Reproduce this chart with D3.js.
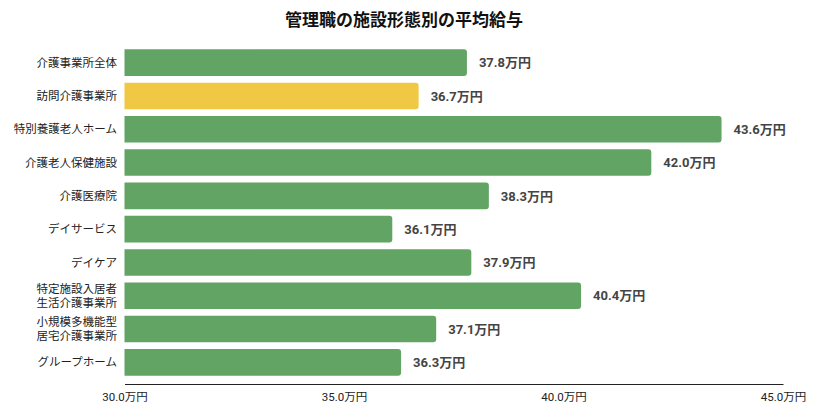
<!DOCTYPE html>
<html>
<head>
<meta charset="utf-8">
<script src="https://cdn.jsdelivr.net/npm/d3@7"></script>
<style>
  body { margin: 0; background: #fff; }
  text { font-family: "Noto Sans CJK JP", "Noto Sans", sans-serif; }
</style>
</head>
<body>
<div id="chart"></div>
<script>
    var categories = [
      ["介護事業所全体"],
      ["訪問介護事業所"],
      ["特別養護老人ホーム"],
      ["介護老人保健施設"],
      ["介護医療院"],
      ["デイサービス"],
      ["デイケア"],
      ["特定施設入居者", "生活介護事業所"],
      ["小規模多機能型", "居宅介護事業所"],
      ["グループホーム"]
    ];
    var values = [37.8, 36.7, 43.6, 42.0, 38.3, 36.1, 37.9, 40.4, 37.1, 36.3];
    var highlight = [false, true, false, false, false, false, false, false, false, false];
    var ticks = [30, 35, 40, 45];

    var svg = d3.select("#chart")
                .append("svg")
                .attr("width", 813)
                .attr("height", 410);

    var xScale = d3.scaleLinear()
                   .domain([30, 45])
                   .range([124.5, 783]);

    var yScale = d3.scaleBand()
                   .domain(d3.range(values.length))
                   .range([46, 379])
                   .paddingInner(0.2)
                   .paddingOuter(0.1);

    svg.append("text")
       .attr("x", 404)
       .attr("y", 26)
       .attr("text-anchor", "middle")
       .style("font-size", "17px")
       .style("font-weight", "bold")
       .attr("fill", "#111")
       .text("管理職の施設形態別の平均給与");

    // bars, square at the left, rounded at the right
    function barPath(i) {
      var x0 = xScale(30), x1 = xScale(values[i]);
      var y0 = yScale(i), h = yScale.bandwidth(), r = 3;
      return "M" + x0 + "," + y0 +
             "H" + (x1 - r) +
             "Q" + x1 + "," + y0 + " " + x1 + "," + (y0 + r) +
             "V" + (y0 + h - r) +
             "Q" + x1 + "," + (y0 + h) + " " + (x1 - r) + "," + (y0 + h) +
             "H" + x0 + "Z";
    }

    svg.selectAll("path.bar")
       .data(values)
       .enter()
       .append("path")
       .attr("class", "bar")
       .attr("d", (d, i) => barPath(i))
       .attr("fill", (d, i) => highlight[i] ? "#f0c843" : "#62a464");

    svg.selectAll("text.value")
       .data(values)
       .enter()
       .append("text")
       .attr("class", "value")
       .attr("x", d => xScale(d) + 12)
       .attr("y", (d, i) => yScale(i) + yScale.bandwidth() / 2)
       .attr("dy", "0.36em")
       .style("font-size", "13px")
       .style("font-weight", "bold")
       .style("font-family", "Roboto, 'Noto Sans CJK JP', sans-serif")
       .attr("fill", "#444")
       .text(d => d.toFixed(1) + "万円");

    var labels = svg.selectAll("text.label")
       .data(categories)
       .enter()
       .append("text")
       .attr("class", "label")
       .attr("text-anchor", "end")
       .attr("x", 117)
       .attr("y", (d, i) => yScale(i) + yScale.bandwidth() / 2)
       .style("font-size", "11.5px")
       .attr("fill", "#222");

    labels.selectAll("tspan")
          .data(d => d.map((s, j) => ({ s: s, j: j, n: d.length })))
          .enter()
          .append("tspan")
          .attr("x", 117)
          .attr("dy", d => d.j === 0 ? (0.36 - (d.n - 1) * 0.63) + "em" : "1.26em")
          .text(d => d.s);

    var axis = svg.append("g")
       .attr("transform", "translate(0,384)")
       .call(d3.axisBottom(xScale).tickValues(ticks).tickSize(0).tickPadding(9)
               .tickFormat(d => d.toFixed(1) + "万円"));

    axis.select(".domain").attr("stroke", "#222").attr("stroke-width", 1.2);
    axis.selectAll("text")
        .style("font-size", "11.5px")
        .style("font-family", "Roboto, 'Noto Sans CJK JP', sans-serif")
        .attr("fill", "#222");
</script>
</body>
</html>
